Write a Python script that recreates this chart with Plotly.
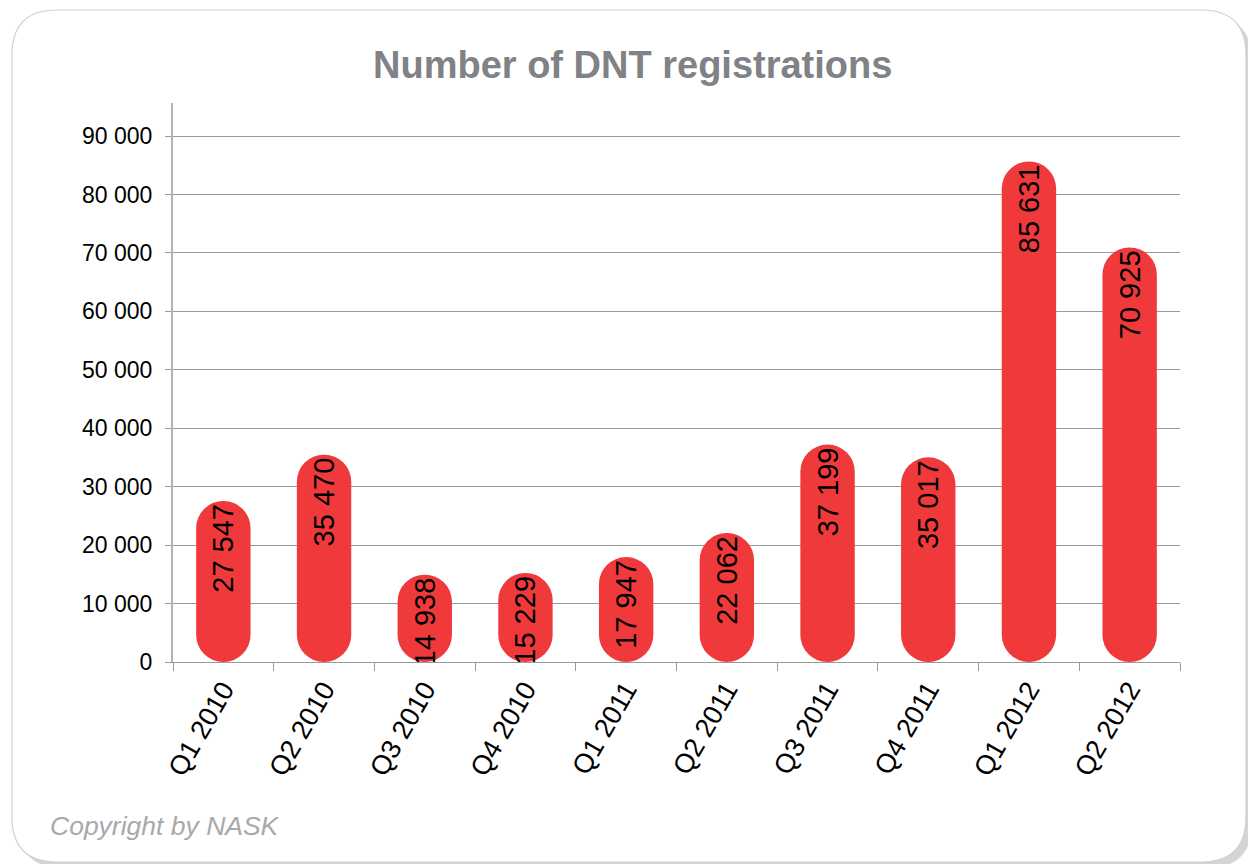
import plotly.graph_objects as go

categories = ["Q1 2010", "Q2 2010", "Q3 2010", "Q4 2010", "Q1 2011",
              "Q2 2011", "Q3 2011", "Q4 2011", "Q1 2012", "Q2 2012"]
registrations = [27547, 35470, 14938, 15229, 17947, 22062, 37199, 35017, 85631, 70925]
y_ticks = [0, 10000, 20000, 30000, 40000, 50000, 60000, 70000, 80000, 90000]

W, H = 1248, 864
ML, MR, MT, MB = 173, 68, 103, 202
PW, PH = W - ML - MR, H - MT - MB

def px(x):
    return (x - ML) / PW

def py(y):
    return (H - MB - y) / PH

def rrect(x0, y0, x1, y1, r):
    pts = [
        f"M {px(x0 + r)} {py(y0)}",
        f"L {px(x1 - r)} {py(y0)}",
        f"Q {px(x1)} {py(y0)} {px(x1)} {py(y0 + r)}",
        f"L {px(x1)} {py(y1 - r)}",
        f"Q {px(x1)} {py(y1)} {px(x1 - r)} {py(y1)}",
        f"L {px(x0 + r)} {py(y1)}",
        f"Q {px(x0)} {py(y1)} {px(x0)} {py(y1 - r)}",
        f"L {px(x0)} {py(y0 + r)}",
        f"Q {px(x0)} {py(y0)} {px(x0 + r)} {py(y0)}",
        "Z",
    ]
    return " ".join(pts)

RED = "#F0393B"
FONT = "Liberation Sans, Arial, sans-serif"

fig = go.Figure()
# capsule-shaped bars
fig.add_trace(go.Bar(
    x=categories, y=registrations, base=[0] * len(registrations),
    marker=dict(color=RED, cornerradius=27, line=dict(width=0)),
    width=0.54, showlegend=False,
    hovertemplate="%{x}: %{y:,d}<extra></extra>",
))
# transparent twin bars carrying the unscaled value labels
fig.add_trace(go.Bar(
    x=categories, y=registrations,
    marker=dict(color="rgba(0,0,0,0)", line=dict(width=0)),
    width=0.54, showlegend=False, hoverinfo="skip",
    texttemplate="%{y:,d}", textposition="inside", insidetextanchor="end",
    textangle=-90, constraintext="none",
    textfont=dict(family=FONT, size=29, color="#000000"),
))

fig.update_layout(
    width=W, height=H,
    margin=dict(l=ML, r=MR, t=MT, b=MB, pad=0),
    paper_bgcolor="white", plot_bgcolor="rgba(0,0,0,0)",
    barmode="overlay",
    separators=", ",
    font=dict(family=FONT, color="#000000"),
    shapes=[
        dict(type="path", xref="paper", yref="paper", layer="below",
             path=rrect(18, 16, 1252, 868, 45), fillcolor="#d4d4d4", line=dict(width=0)),
        dict(type="path", xref="paper", yref="paper", layer="below",
             path=rrect(12, 10, 1246, 862, 45), fillcolor="white",
             line=dict(color="#d0d0d0", width=1.2)),
    ],
    annotations=[
        dict(text="<b>Number of DNT registrations</b>", xref="paper", yref="paper",
             x=px(632), y=py(65), xanchor="center", yanchor="middle", showarrow=False,
             font=dict(family=FONT, size=38, color="#808285")),
        dict(text="Copyright by NASK", xref="paper", yref="paper",
             x=px(48), y=py(826), xanchor="left", yanchor="middle", showarrow=False,
             font=dict(family=FONT, size=26.5, color="#a7a9ac", style="italic")),
    ],
)

fig.update_yaxes(
    range=[0, 95650], tickvals=y_ticks, tickformat=",d",
    showgrid=True, gridcolor="#9a9a9a", gridwidth=1,
    zeroline=False, showline=True, linecolor="#b3b3b3", linewidth=2,
    ticks="outside", ticklen=6, tickcolor="#9a9a9a", tickwidth=1,
    tickfont=dict(size=23, color="#000000"), ticklabelstandoff=8,
)
fig.update_xaxes(
    showline=True, linecolor="#9a9a9a", linewidth=1,
    ticks="outside", ticklen=8, tickcolor="#9a9a9a", tickwidth=1,
    tickson="boundaries", tickangle=-60,
    tickfont=dict(size=27, color="#000000"),
)

fig.write_html("out.html", config={"displayModeBar": False},
               post_script="document.body.style.margin='0';")
